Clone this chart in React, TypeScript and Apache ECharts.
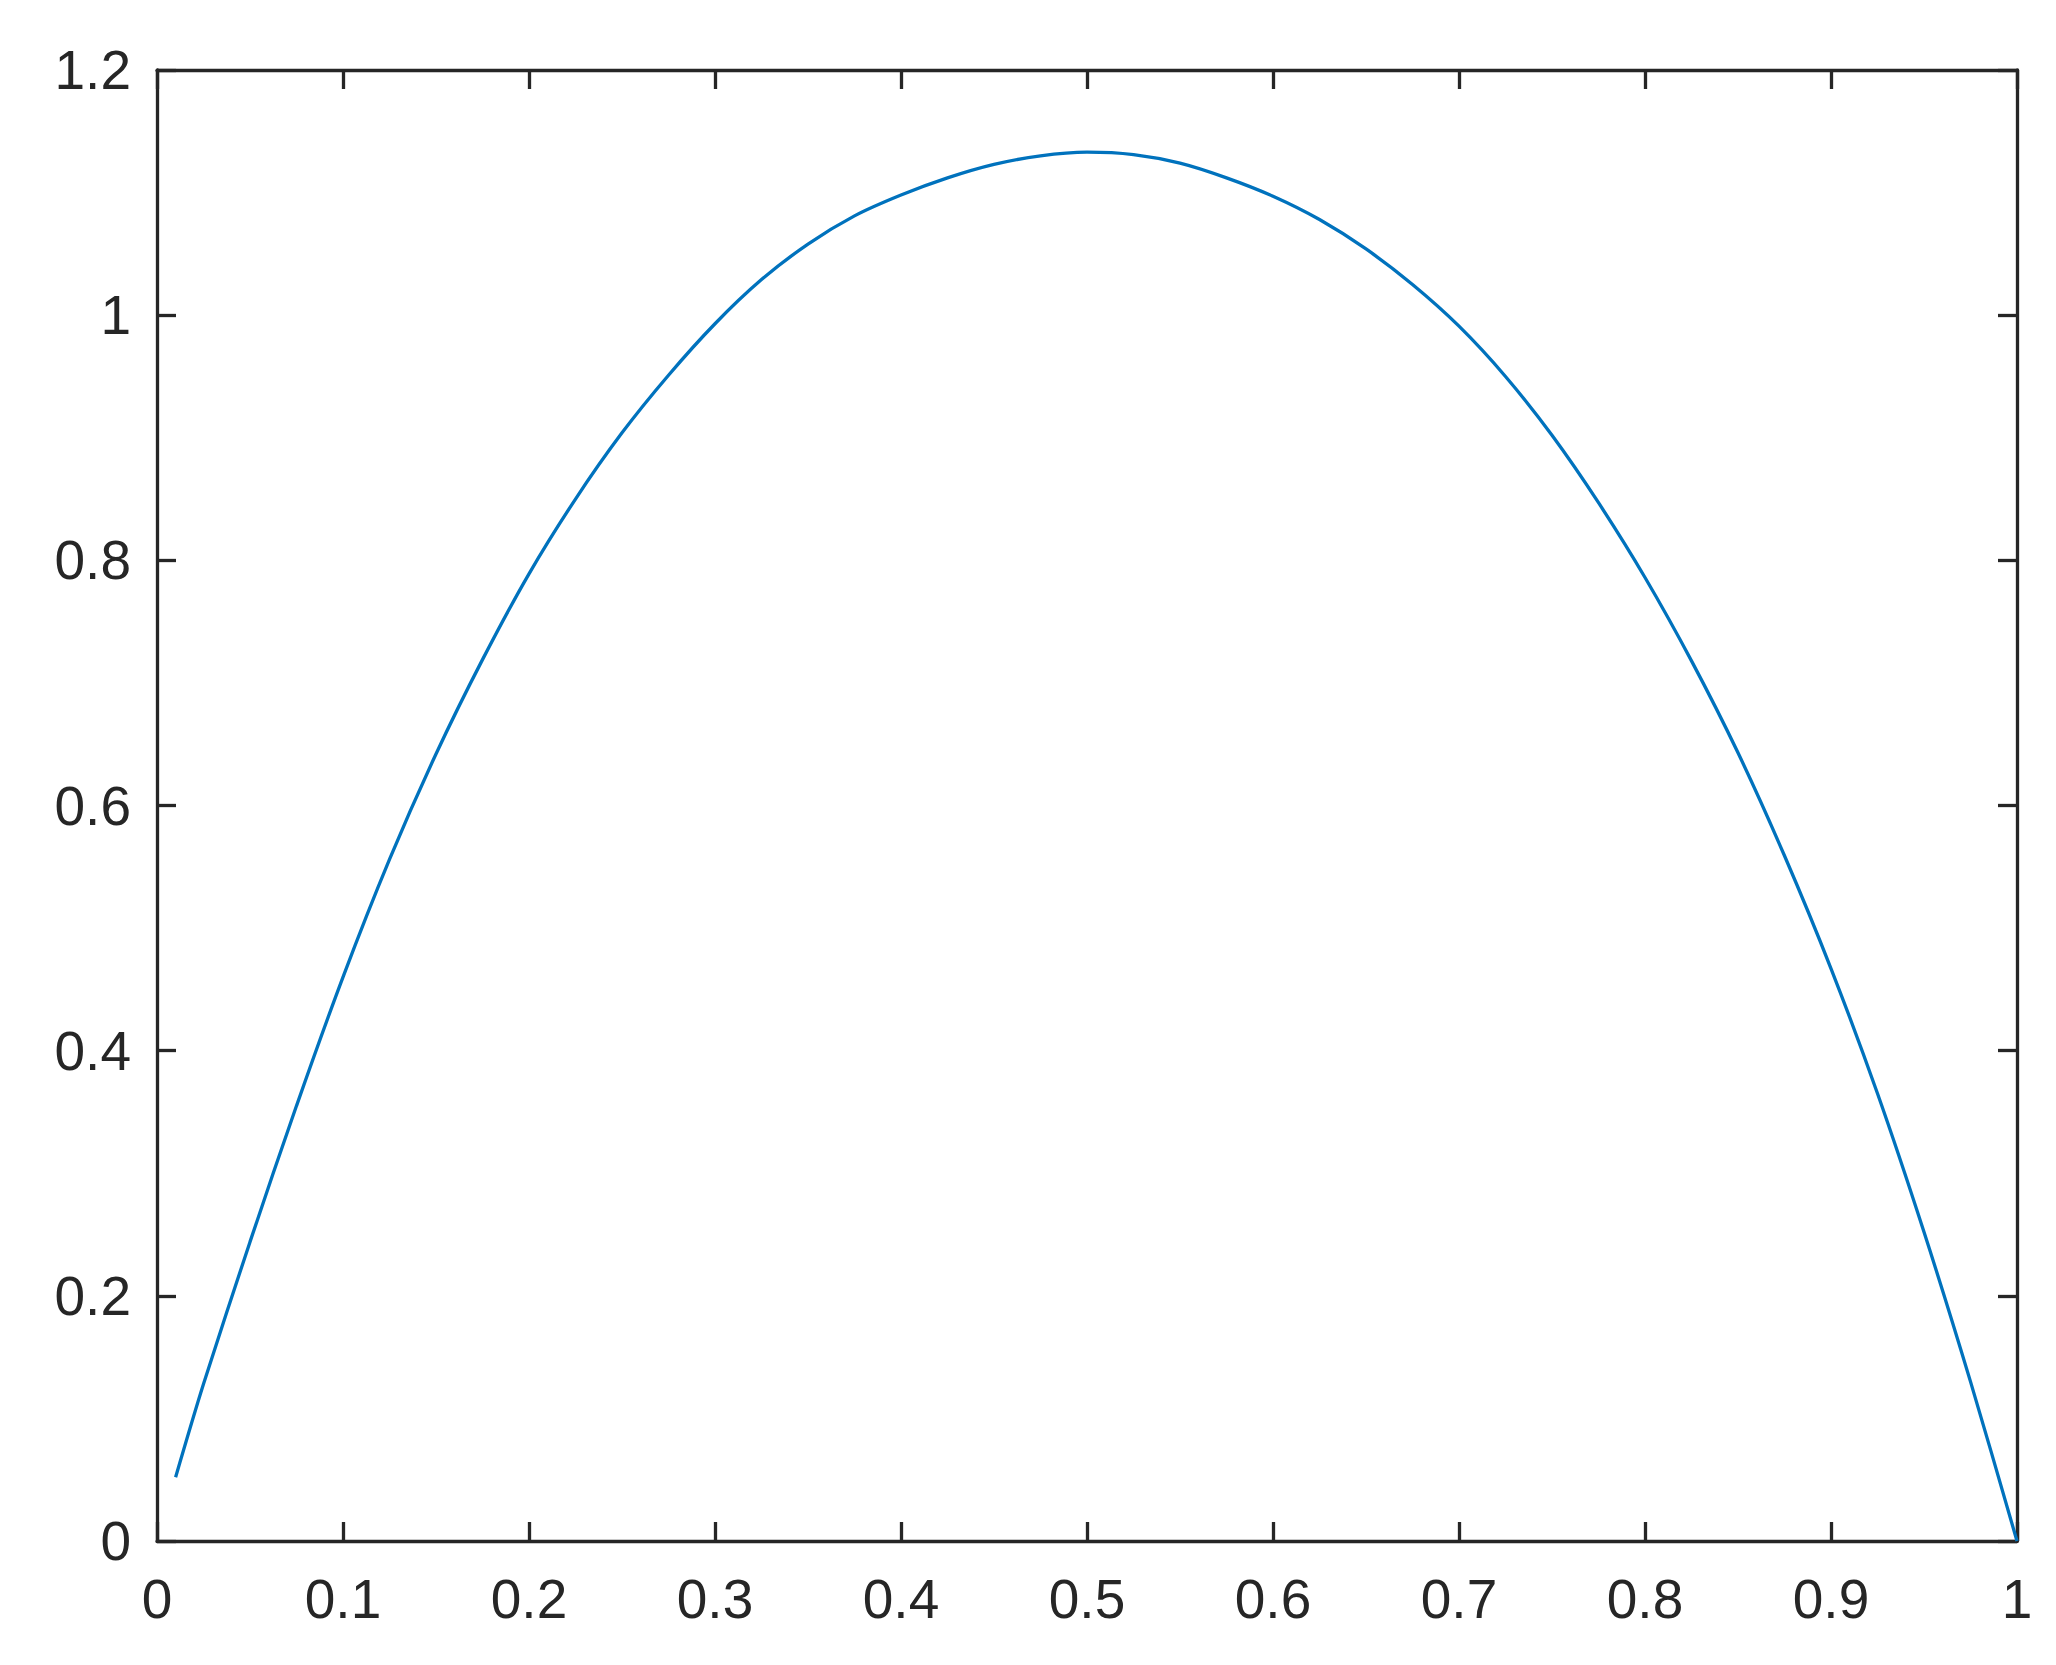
import React, { useEffect, useRef } from "react";
import * as echarts from "echarts";

const xValues = [
  0.01, 0.025, 0.05, 0.075, 0.1, 0.125, 0.15, 0.175, 0.2, 0.225, 0.25, 0.275,
  0.3, 0.325, 0.35, 0.375, 0.4, 0.425, 0.45, 0.475, 0.5, 0.525, 0.55, 0.575,
  0.6, 0.625, 0.65, 0.675, 0.7, 0.725, 0.75, 0.775, 0.8, 0.825, 0.85, 0.875,
  0.9, 0.925, 0.95, 0.975, 1.0,
];
const yValues = [
  0.052, 0.128, 0.244, 0.355, 0.46, 0.556, 0.642, 0.719, 0.789, 0.85, 0.904,
  0.951, 0.993, 1.029, 1.058, 1.081, 1.098, 1.112, 1.123, 1.13, 1.133, 1.131,
  1.124, 1.112, 1.097, 1.078, 1.054, 1.025, 0.991, 0.95, 0.902, 0.847, 0.786,
  0.718, 0.643, 0.559, 0.467, 0.365, 0.252, 0.13, 0.0,
];
const xTickLabels = ["0", "0.1", "0.2", "0.3", "0.4", "0.5", "0.6", "0.7", "0.8", "0.9", "1"];
const yTickLabels = ["0", "0.2", "0.4", "0.6", "0.8", "1", "1.2"];

const AXIS_COLOR = "#262626";
const FONT = "'Liberation Sans', Arial, Helvetica, sans-serif";

export default function App() {
  const ref = useRef<HTMLDivElement>(null);
  useEffect(() => {
    document.body.style.margin = "0";
    if (!ref.current) return;
    const chart = echarts.init(ref.current, null, { renderer: "svg" });
    const xLabel = (v: number) => xTickLabels[Math.round(v * 10)] ?? "";
    const yLabel = (v: number) => yTickLabels[Math.round(v * 5)] ?? "";
    const tickCommon = {
      show: true,
      inside: true,
      length: 19,
      lineStyle: { color: AXIS_COLOR, width: 3.3 },
    };
    const lineCommon = { show: true, onZero: false, lineStyle: { color: AXIS_COLOR, width: 3.3 } };
    chart.setOption({
      animation: false,
      backgroundColor: "#ffffff",
      grid: { left: 157, right: 39, top: 70, bottom: 124, containLabel: false },
      xAxis: [
        {
          type: "value",
          min: 0,
          max: 1,
          interval: 0.1,
          position: "bottom",
          axisLine: lineCommon,
          axisTick: tickCommon,
          splitLine: { show: false },
          axisLabel: {
            show: true,
            margin: 30,
            color: AXIS_COLOR,
            fontSize: 55,
            fontFamily: FONT,
            formatter: xLabel,
          },
        },
        {
          type: "value",
          min: 0,
          max: 1,
          interval: 0.1,
          position: "top",
          axisLine: lineCommon,
          axisTick: tickCommon,
          splitLine: { show: false },
          axisLabel: { show: false },
        },
      ],
      yAxis: [
        {
          type: "value",
          min: 0,
          max: 1.2,
          interval: 0.2,
          position: "left",
          axisLine: lineCommon,
          axisTick: tickCommon,
          splitLine: { show: false },
          axisLabel: {
            show: true,
            margin: 26,
            color: AXIS_COLOR,
            fontSize: 55,
            fontFamily: FONT,
            formatter: yLabel,
          },
        },
        {
          type: "value",
          min: 0,
          max: 1.2,
          interval: 0.2,
          position: "right",
          axisLine: lineCommon,
          axisTick: tickCommon,
          splitLine: { show: false },
          axisLabel: { show: false },
        },
      ],
      series: [
        {
          type: "line",
          xAxisIndex: 0,
          yAxisIndex: 0,
          data: xValues.map((x, i) => [x, yValues[i]]),
          showSymbol: false,
          smooth: 0.3,
          lineStyle: { color: "#0072BD", width: 3.3 },
          itemStyle: { color: "#0072BD" },
        },
      ],
    });
    return () => chart.dispose();
  }, []);
  return <div ref={ref} style={{ width: 2056, height: 1665 }} />;
}
